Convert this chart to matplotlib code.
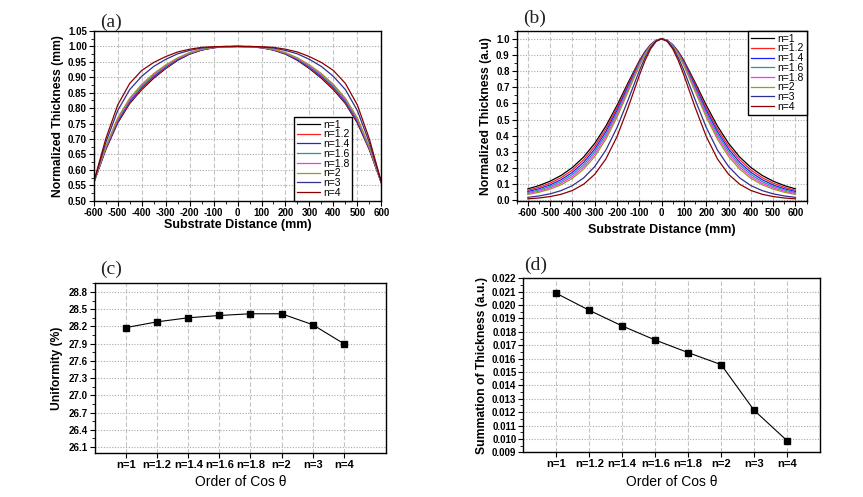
import numpy as np
import matplotlib
matplotlib.use('Agg')
import matplotlib.pyplot as plt
from matplotlib import font_manager
from matplotlib.ticker import MultipleLocator, FormatStrFormatter

# ---- data (half profiles, curves are symmetric about 0) ----
labels = ['n=1', 'n=1.2', 'n=1.4', 'n=1.6', 'n=1.8', 'n=2', 'n=3', 'n=4']
colors = ['#000000', '#FF2020', '#2020FF', '#1E9A9A', '#FF30FF', '#9A9A20', '#303090', '#8B0000']

# (a) substrate distance 0..600 mm
pos_a = [0, 50, 100, 150, 200, 250, 300, 350, 400, 450, 500, 550, 600]
a_n1 = [1.000, 0.999, 0.996, 0.988, 0.975, 0.955, 0.928, 0.897, 0.860, 0.815, 0.752, 0.665, 0.558]
a_n12 = [1.000, 0.999, 0.996, 0.989, 0.976, 0.957, 0.930, 0.900, 0.863, 0.818, 0.755, 0.667, 0.558]
a_n14 = [1.000, 0.999, 0.996, 0.989, 0.977, 0.958, 0.933, 0.903, 0.867, 0.822, 0.758, 0.669, 0.558]
a_n16 = [1.000, 0.999, 0.997, 0.990, 0.978, 0.960, 0.935, 0.906, 0.870, 0.825, 0.762, 0.671, 0.559]
a_n18 = [1.000, 0.999, 0.997, 0.990, 0.979, 0.961, 0.938, 0.909, 0.874, 0.829, 0.765, 0.673, 0.559]
a_n2 = [1.000, 0.999, 0.997, 0.991, 0.980, 0.963, 0.940, 0.912, 0.877, 0.832, 0.768, 0.675, 0.559]
a_n3 = [1.000, 1.000, 0.998, 0.995, 0.987, 0.976, 0.958, 0.935, 0.903, 0.860, 0.792, 0.688, 0.560]
a_n4 = [1.000, 1.000, 0.999, 0.997, 0.991, 0.982, 0.967, 0.948, 0.922, 0.880, 0.810, 0.700, 0.560]

# (b) substrate distance 0..600 mm
pos_b = [0, 25, 50, 75, 100, 150, 200, 250, 300, 350, 400, 450, 500, 550, 600]
b_n1 = [1.0, 0.9906, 0.9631, 0.9198, 0.8639, 0.7296, 0.5885, 0.4601, 0.3531, 0.2685, 0.2040, 0.1554, 0.1192, 0.0921, 0.0718]
b_n12 = [1.0, 0.9901, 0.9613, 0.9160, 0.8576, 0.7182, 0.5731, 0.4426, 0.3351, 0.2515, 0.1884, 0.1416, 0.1071, 0.0817, 0.0629]
b_n14 = [1.0, 0.9896, 0.9595, 0.9121, 0.8513, 0.7070, 0.5581, 0.4257, 0.3181, 0.2355, 0.1740, 0.1290, 0.0963, 0.0725, 0.0552]
b_n16 = [1.0, 0.9892, 0.9577, 0.9083, 0.8451, 0.6959, 0.5435, 0.4095, 0.3020, 0.2205, 0.1607, 0.1175, 0.0866, 0.0644, 0.0484]
b_n18 = [1.0, 0.9887, 0.9559, 0.9045, 0.8390, 0.6851, 0.5292, 0.3939, 0.2867, 0.2065, 0.1484, 0.1071, 0.0779, 0.0571, 0.0424]
b_n2 = [1.0, 0.9882, 0.9541, 0.9008, 0.8329, 0.6743, 0.5154, 0.3789, 0.2721, 0.1933, 0.1371, 0.0976, 0.0700, 0.0507, 0.0372]
b_n3 = [1.0, 0.9859, 0.9452, 0.8821, 0.8029, 0.6232, 0.4514, 0.3121, 0.2098, 0.1392, 0.0921, 0.0613, 0.0411, 0.0279, 0.0192]
b_n4 = [1.0, 0.9836, 0.9364, 0.8639, 0.7741, 0.5760, 0.3954, 0.2570, 0.1617, 0.1002, 0.0619, 0.0385, 0.0242, 0.0154, 0.0100]

# (c), (d)
cats = ['n=1', 'n=1.2', 'n=1.4', 'n=1.6', 'n=1.8', 'n=2', 'n=3', 'n=4']
uniformity = [28.18, 28.28, 28.35, 28.39, 28.42, 28.42, 28.23, 27.90]
summation = [0.02088, 0.01961, 0.01844, 0.01739, 0.01645, 0.01555, 0.01214, 0.00987]

curves_a = [a_n1, a_n12, a_n14, a_n16, a_n18, a_n2, a_n3, a_n4]
curves_b = [b_n1, b_n12, b_n14, b_n16, b_n18, b_n2, b_n3, b_n4]


def mirror(pos, vals):
    x = [-p for p in pos[::-1]] + list(pos[1:])
    y = list(vals[::-1]) + list(vals[1:])
    return x, y


names = {f.name for f in font_manager.fontManager.ttflist}
narrow = 'Liberation Sans Narrow' if 'Liberation Sans Narrow' in names else 'Liberation Sans'

plt.rcParams['font.family'] = ['Liberation Sans', 'DejaVu Sans']
plt.rcParams['axes.unicode_minus'] = False

fig = plt.figure(figsize=(8.63, 4.97), dpi=100)
ax_a = fig.add_axes([0.1086, 0.5962, 0.3333, 0.3414])
ax_b = fig.add_axes([0.5987, 0.5950, 0.3360, 0.3433])
ax_c = fig.add_axes([0.1101, 0.0891, 0.3372, 0.3408])
ax_d = fig.add_axes([0.6064, 0.0899, 0.3438, 0.3501])


def style(ax, xsize=7):
    for s in ax.spines.values():
        s.set_linewidth(1.0)
        s.set_color('black')
    ax.tick_params(which='major', direction='out', length=3.5, width=0.8, labelsize=7, pad=1.5)
    ax.tick_params(axis='x', which='major', labelsize=xsize)
    ax.tick_params(which='minor', direction='out', length=2, width=0.6)
    for lab in ax.get_xticklabels() + ax.get_yticklabels():
        lab.set_fontweight('bold')
    ax.set_axisbelow(True)
    ax.xaxis.grid(True, linestyle=(0, (4, 2)), color='#c4c4c4', lw=0.8)
    ax.yaxis.grid(True, linestyle=(0, (1, 1.5)), color='#a8a8a8', lw=0.8)


def ylab(ax, text, pad):
    ax.set_ylabel(text, fontsize=8.7, fontweight='bold', family=[narrow, 'DejaVu Sans'], labelpad=pad)


def legend(ax, **kw):
    leg = ax.legend(borderaxespad=0, fancybox=False, edgecolor='black', framealpha=1, fontsize=7.5,
                    labelspacing=-0.03, handlelength=2.2, handletextpad=0.3, borderpad=0.3, **kw)
    leg.get_frame().set_linewidth(1.0)


# (a)
for vals, c, lab in zip(curves_a, colors, labels):
    x, y = mirror(pos_a, vals)
    ax_a.plot(x, y, color=c, lw=0.9, label=lab)
ax_a.set_xlim(-600, 600)
ax_a.set_ylim(0.50, 1.05)
ax_a.xaxis.set_major_locator(MultipleLocator(100))
ax_a.xaxis.set_minor_locator(MultipleLocator(50))
ax_a.yaxis.set_major_locator(MultipleLocator(0.05))
ax_a.yaxis.set_minor_locator(MultipleLocator(0.025))
ax_a.yaxis.set_major_formatter(FormatStrFormatter('%.2f'))
style(ax_a)
ax_a.set_xlabel('Substrate Distance (mm)', fontsize=9, fontweight='bold', labelpad=1)
ylab(ax_a, 'Normalized Thickness (mm)', 3)
legend(ax_a, loc='lower right', bbox_to_anchor=(0.899, 0.0))

# (b)
for vals, c, lab in zip(curves_b, colors, labels):
    x, y = mirror(pos_b, vals)
    ax_b.plot(x, y, color=c, lw=0.9, label=lab)
ax_b.set_xlim(-650, 650)
ax_b.set_ylim(-0.005, 1.05)
ax_b.xaxis.set_major_locator(MultipleLocator(100))
ax_b.xaxis.set_minor_locator(MultipleLocator(50))
ax_b.yaxis.set_major_locator(MultipleLocator(0.1))
ax_b.yaxis.set_minor_locator(MultipleLocator(0.05))
ax_b.yaxis.set_major_formatter(FormatStrFormatter('%.1f'))
style(ax_b)
ax_b.set_xlabel('Substrate Distance (mm)', fontsize=9, fontweight='bold', labelpad=4)
ylab(ax_b, 'Normalized Thickness (a.u)', 3)
legend(ax_b, loc='upper right', bbox_to_anchor=(1.0, 1.0))

# (c)
idx = np.arange(len(cats))
ax_c.plot(idx, uniformity, 'ks-', ms=4.5, lw=0.8)
ax_c.set_xticks(idx)
ax_c.set_xticklabels(cats)
ax_c.set_xlim(-1, 8.36)
ax_c.set_ylim(26.0, 28.95)
ax_c.set_yticks(np.arange(26.1, 28.85, 0.3))
ax_c.yaxis.set_minor_locator(MultipleLocator(0.15))
ax_c.yaxis.set_major_formatter(FormatStrFormatter('%.1f'))
style(ax_c, xsize=8)
ax_c.set_xlabel('Order of Cos θ', fontsize=10, labelpad=4)
ylab(ax_c, 'Uniformity (%)', 4)

# (d)
ax_d.plot(idx, summation, 'ks-', ms=4.5, lw=0.8)
ax_d.set_xticks(idx)
ax_d.set_xticklabels(cats)
ax_d.set_xlim(-1, 8)
ax_d.set_ylim(0.009, 0.022)
ax_d.yaxis.set_major_locator(MultipleLocator(0.001))
ax_d.yaxis.set_minor_locator(MultipleLocator(0.0005))
ax_d.yaxis.set_major_formatter(FormatStrFormatter('%.3f'))
style(ax_d, xsize=8)
ax_d.set_xlabel('Order of Cos θ', fontsize=10, labelpad=4)
ylab(ax_d, 'Summation of Thickness (a.u.)', 3)

# panel letters
for tx, ty, s in [(0.1159, 0.9557, '(a)'), (0.606, 0.9638, '(b)'),
                  (0.1159, 0.4588, '(c)'), (0.6072, 0.4668, '(d)')]:
    fig.text(tx, ty, s, fontsize=14, family=['Liberation Serif', 'DejaVu Serif'],
             ha='left', va='center', color='#222222')

fig.savefig('out.png', dpi=100)
